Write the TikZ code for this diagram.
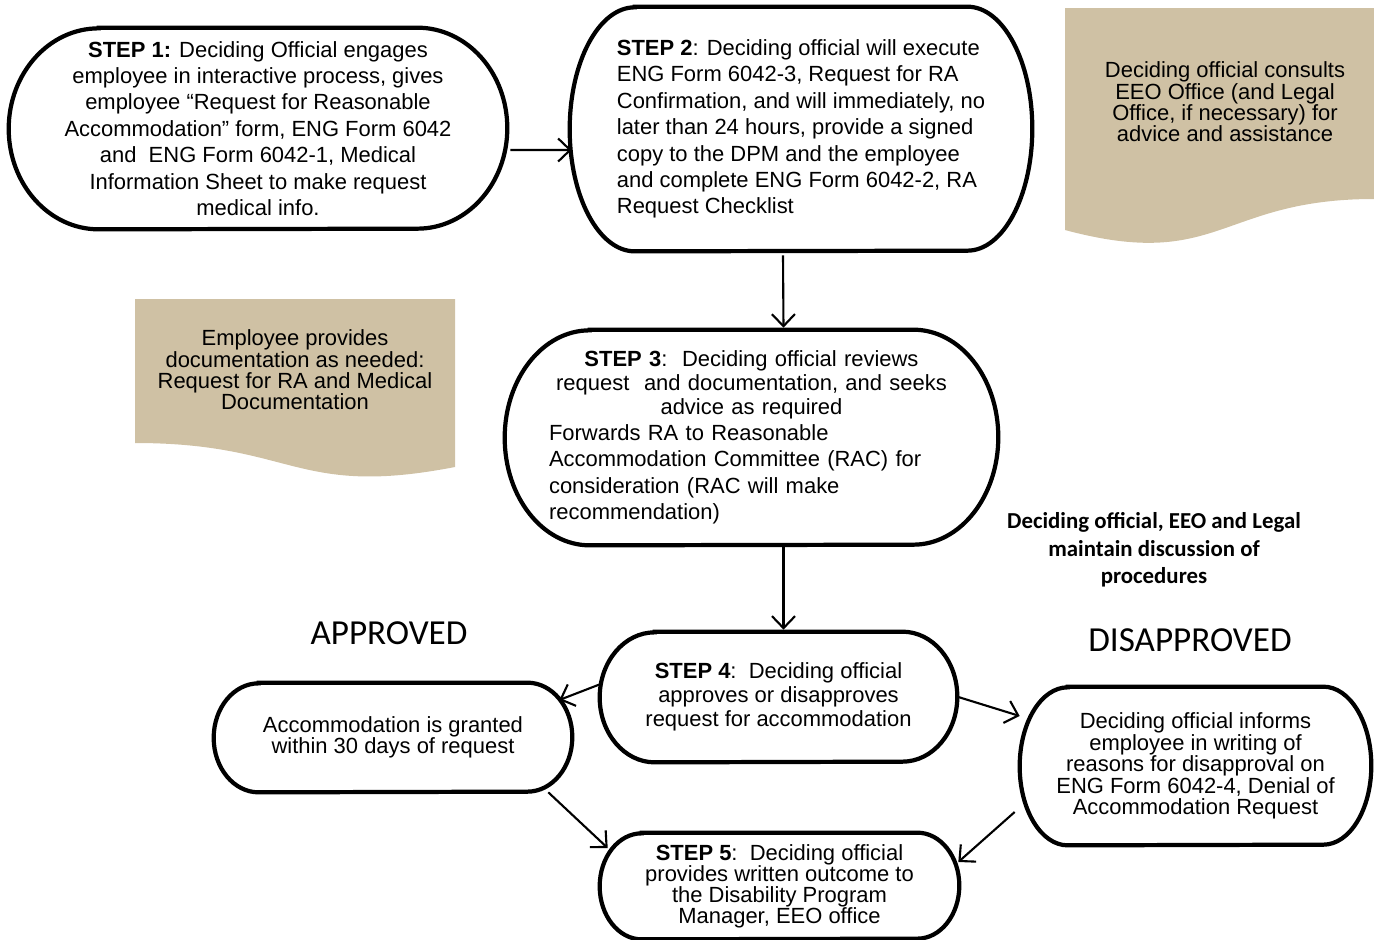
\documentclass[tikz,border=0pt]{standalone}
\usepackage{fontspec}
\setmainfont{Liberation Sans}
\newfontfamily\calibri{Carlito}
\usetikzlibrary{arrows.meta,calc}
\definecolor{doctan}{RGB}{207,193,164}
\tikzset{
  stepbox/.style={inner sep=0pt, align=center, font=\fontsize{12.5}{15}\selectfont},
  smallbox/.style={inner sep=0pt, align=center, font=\fontsize{12.5}{12.3}\selectfont},
  doctext/.style={inner sep=0pt, align=center, font=\fontsize{12.5}{12.1}\selectfont},
  outcome/.style={inner sep=0pt, font=\calibri\fontsize{20}{24}\selectfont},
  notetext/.style={inner sep=0pt, align=center, font=\calibri\bfseries\fontsize{13}{15.6}\selectfont},
  border/.style={line width=2.4pt},
  docfill/.style={fill=doctan},
  arrow/.style={-{Straight Barb[length=2.4mm,width=4.6mm]}, line width=1.2pt}
}
% terminator outline round a node: node, end radius (px), half height (px)
\newcommand\termborder[3]{%
  \draw[border] ($(#1.north west)+(#2,0)$) -- ($(#1.north east)+(-#2,0)$)
    arc[start angle=90, end angle=-90, x radius={#2*0.02cm}, y radius={#3*0.02cm}]
    -- ($(#1.south west)+(#2,0)$)
    arc[start angle=270, end angle=90, x radius={#2*0.02cm}, y radius={#3*0.02cm}] -- cycle;}

\begin{document}
\begin{tikzpicture}[x=0.02cm,y=-0.02cm]
  \useasboundingbox (0,0) rectangle (1374,940);

  % document shapes
  \fill[docfill] (1065,8) -- (1374,8) -- (1374,199) .. controls (1219.5,199) and (1219.5,271.5) .. (1065,230) -- cycle;
  \fill[docfill] (135,299) -- (455,299) -- (455,467) .. controls (295,498) and (295,443) .. (135,443) -- cycle;
  \node[doctext] (consult) at (1225,102) {Deciding official consults\\EEO Office (and Legal\\Office, if necessary) for\\advice and assistance};
  \node[doctext] (empdoc) at (295,370) {Employee provides\\documentation as needed:\\Request for RA and Medical\\Documentation};

  % steps
  \node[stepbox, minimum width=9.96cm, minimum height=4.02cm] (step1) at (258,128.5) {\textbf{STEP 1:} Deciding Official engages\\employee in interactive process, gives\\employee “Request for Reasonable\\Accommodation” form, ENG Form 6042\\and\ \ ENG Form 6042-1, Medical\\Information Sheet to make request\\medical info.};
  \node[stepbox, align=left, minimum width=9.24cm, minimum height=4.88cm] (step2) at (801,129) {\textbf{STEP 2}: Deciding official will execute\\ENG Form 6042-3, Request for RA\\Confirmation, and will immediately, no\\later than 24 hours, provide a signed\\copy to the DPM and the employee\\and complete ENG Form 6042-2, RA\\Request Checklist};
  \node[stepbox, text width=8.1cm, align=left, minimum width=9.86cm, minimum height=4.3cm] (step3) at (751.5,437.5) {{\fontsize{12.5}{13.5}\selectfont\centering\textbf{STEP 3}:\ \ Deciding official reviews\\request\ \ and documentation, and seeks\\advice as required\par}\raggedright Forwards RA to Reasonable\\Accommodation Committee (RAC) for\\consideration (RAC will make\\recommendation)};
  \node[stepbox, font=\fontsize{12.5}{13.5}\selectfont, minimum width=7.14cm, minimum height=2.6cm] (step4) at (778.5,697) {\textbf{STEP 4}:\ \ Deciding official\\approves or disapproves\\request for accommodation};
  \node[smallbox, minimum width=7.16cm, minimum height=2.18cm] (granted) at (393,737.5) {Accommodation is granted\\within 30 days of request};
  \node[smallbox, minimum width=7.02cm, minimum height=3.16cm] (denied) at (1195.5,766) {Deciding official informs\\employee in writing of\\reasons for disapproval on\\ENG Form 6042-4, Denial of\\Accommodation Request};
  \node[smallbox, font=\fontsize{12.5}{11.9}\selectfont, minimum width=7.18cm, minimum height=2.12cm] (step5) at (779.5,886) {\textbf{STEP 5}:\ \ Deciding official\\provides written outcome to\\the Disability Program\\Manager, EEO office};

  \termborder{step1}{90}{100.5}
  \termborder{step2}{65}{122}
  \termborder{step3}{85}{107.5}
  \termborder{step4}{55}{65}
  \termborder{granted}{45}{54.5}
  \termborder{denied}{48}{79}
  \termborder{step5}{42}{53}

  % labels
  \node[outcome] (approved) at (389,633) {APPROVED};
  \node[outcome] (disapproved) at (1190,640) {DISAPPROVED};
  \node[notetext] (discuss) at (1154,550) {Deciding official, EEO and Legal\\maintain discussion of\\procedures};

  % connectors
  \draw[arrow] ($(step1.east)+(3,21.5)$) -- ($(step2.west)+(2,21)$);
  \draw[arrow] ($(step2.south)+(-18,4)$) -- ($(step3.north)+(32,-2)$);
  \draw[arrow] ($(step3.south)+(32,2)$) -- ($(step4.north)+(5,-2)$);
  \draw[arrow] ($(step4.west)+(1,-13)$) -- ($(granted.east)+(-13,-37.5)$);
  \draw[arrow] ($(step4.east)+(1,0)$) -- ($(denied.west)+(0,-50)$);
  \draw[arrow] ($(granted.south east)+(-24,0)$) -- ($(step5.west)+(8,-38)$);
  \draw[arrow] ($(denied.west)+(-5,46)$) -- ($(step5.east)+(-1,-24)$);
\end{tikzpicture}
\end{document}
